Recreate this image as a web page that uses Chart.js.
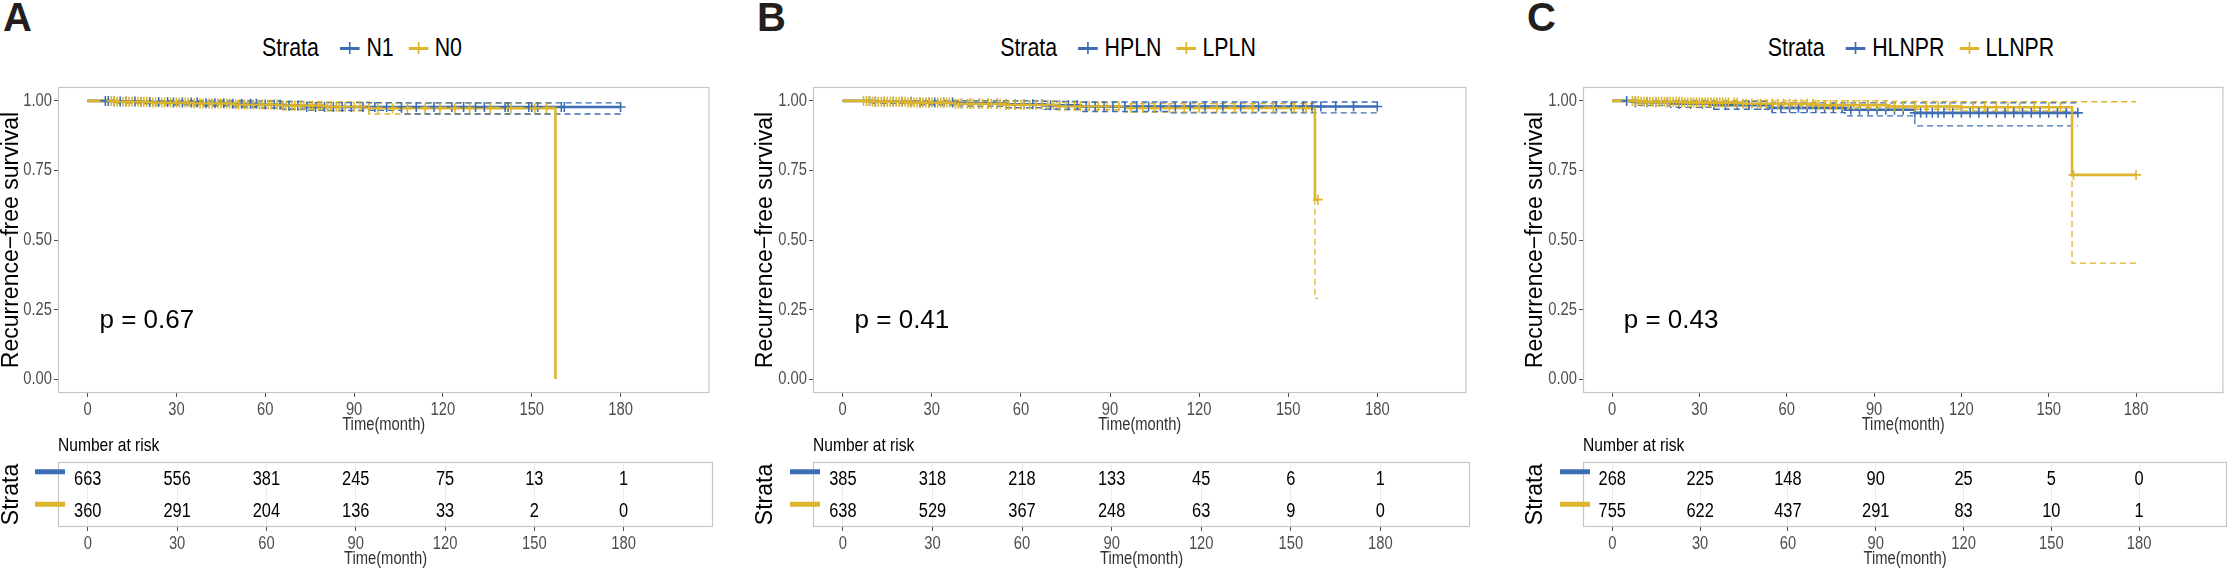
<!DOCTYPE html>
<html>
<head>
<meta charset="utf-8">
<script src="https://cdn.jsdelivr.net/npm/chart.js@4.4.1/dist/chart.umd.min.js"></script>
<style>
  body { margin:0; background:#fff; width:2230px; height:571px; overflow:hidden; position:relative; }
  canvas { position:absolute; }
  .tag { position:absolute; top:-5px; font:bold 40px "Liberation Sans", Arial, sans-serif; color:#231f20; }
  .legend { position:absolute; top:32px; transform:translateX(-50%) scaleX(0.82); display:flex; align-items:center; white-space:nowrap;
            font:26px "Liberation Sans", Arial, sans-serif; color:#000; }
  .key { position:relative; display:inline-block; width:24px; height:14px; margin:0 8px 0 18px; }
  .key.first { margin-left:26px; }
  .key::before { content:""; position:absolute; left:0; right:0; top:6px; height:3px; background:var(--c); }
  .key::after { content:""; position:absolute; left:11px; width:2px; top:1px; bottom:1px; background:var(--c); }
</style>
</head>
<body>
<script>
// ---- shared axes ----
const timeTicks = [0, 30, 60, 90, 120, 150, 180];
const survTicks = [0, 0.25, 0.5, 0.75, 1];

// ---- panel A : N1 / N0 ----
const aStrata = ['N1', 'N0'];
const aPValue = 'p = 0.67';
const aN1Curve = [[0,1],[9,0.998],[18,0.996],[28,0.994],[38,0.992],[48,0.99],[58,0.987],[66,0.983],[74,0.978],[180,0.978]];
const aN1Lower = [[0,1],[9,0.994],[18,0.99],[28,0.986],[38,0.983],[48,0.979],[58,0.975],[66,0.97],[74,0.966],[106,0.953],[180,0.953]];
const aN1Upper = [[0,1],[48,1],[58,0.998],[74,0.994],[106,0.993],[180,0.993]];
const aN1Censor = [6,7,9,11,13,16,18,21,24,27,29,32,35,37,40,43,46,49,52,55,57,60,63,65,68,71,74,77,80,83,86,89,93,97,101,106,111,117,123,127,131,134,141,142,149,150,152,160,161,180];
const aN0Curve = [[0,1],[10,0.997],[22,0.994],[35,0.991],[50,0.987],[65,0.983],[80,0.979],[95,0.974],[158,0]];
const aN0Lower = [[0,1],[10,0.99],[22,0.985],[35,0.981],[50,0.976],[65,0.971],[80,0.965],[95,0.953],[158,0.953]];
const aN0Upper = [[0,1],[50,1],[65,0.996],[95,0.992],[158,0.992]];
const aN0Censor = [8,9,10,12,13,14,15,17,18,19,20,22,23,25,26,28,30,31,33,34,36,38,39,41,42,44,45,47,48,50,51,53,54,56,58,59,61,62,64,66,67,69,70,72,73,75,76,78,79,81,82,84,85,87,90,92,95,98,103,108,114,119,124,129,136,143,151,155];
const aN1Risk = [663, 556, 381, 245, 75, 13, 1];
const aN0Risk = [360, 291, 204, 136, 33, 2, 0];

// ---- panel B : HPLN / LPLN ----
const bStrata = ['HPLN', 'LPLN'];
const bPValue = 'p = 0.41';
const bHCurve = [[0,1],[10,0.997],[25,0.994],[40,0.991],[55,0.988],[68,0.984],[80,0.98],[180,0.98]];
const bHLower = [[0,1],[10,0.991],[25,0.986],[40,0.981],[55,0.976],[68,0.97],[80,0.962],[110,0.957],[180,0.957]];
const bHUpper = [[0,1],[55,1],[68,0.998],[80,0.996],[180,0.996]];
const bHCensor = [9,11,14,17,20,23,26,29,31,34,37,40,43,46,49,52,55,58,61,64,67,70,73,76,79,82,85,88,91,95,99,103,107,112,117,122,128,134,140,146,151,155,158,161,166,172,180];
const bLCurve = [[0,1],[10,0.997],[22,0.994],[38,0.99],[55,0.986],[72,0.981],[95,0.975],[159,0.645],[160,0.645]];
const bLLower = [[0,1],[10,0.991],[22,0.986],[38,0.98],[55,0.975],[72,0.969],[95,0.96],[159,0.29],[160,0.29]];
const bLUpper = [[0,1],[55,0.999],[72,0.995],[95,0.99],[159,0.99]];
const bLCensor = [7,8,9,10,11,12,13,14,15,16,17,18,19,20,21,22,23,24,25,26,27,28,29,30,32,33,34,35,36,38,39,40,42,43,44,46,47,49,50,52,53,55,56,58,60,61,63,65,67,69,71,73,75,78,80,83,86,89,93,97,101,105,110,115,120,126,132,138,145,152,156,160];
const bHRisk = [385, 318, 218, 133, 45, 6, 1];
const bLRisk = [638, 529, 367, 248, 63, 9, 0];

// ---- panel C : HLNPR / LLNPR ----
const cStrata = ['HLNPR', 'LLNPR'];
const cPValue = 'p = 0.43';
const cHCurve = [[0,1],[8,0.995],[20,0.99],[35,0.985],[55,0.975],[80,0.968],[104,0.957],[160,0.957]];
const cHLower = [[0,1],[8,0.984],[20,0.977],[35,0.97],[55,0.958],[80,0.946],[104,0.91],[160,0.91]];
const cHUpper = [[0,1],[35,0.998],[55,0.993],[104,0.993],[160,0.993]];
const cHCensor = [5,8,12,15,19,23,27,31,35,39,43,47,51,55,58,61,64,67,70,73,76,79,82,85,88,91,94,97,100,104,106,108,110,112,114,117,120,123,126,129,132,135,138,141,144,147,150,153,156,160];
const cLCurve = [[0,1],[10,0.997],[25,0.994],[45,0.99],[70,0.985],[95,0.98],[120,0.977],[158,0.734],[180,0.734]];
const cLLower = [[0,1],[10,0.992],[25,0.988],[45,0.983],[70,0.976],[95,0.97],[120,0.964],[158,0.417],[180,0.417]];
const cLUpper = [[0,1],[95,0.998],[120,0.997],[180,0.997]];
const cLCensor = [7,8,9,10,11,12,13,14,15,16,17,18,19,20,21,22,23,24,25,26,27,28,29,30,31,32,33,34,35,36,37,38,39,40,42,43,45,46,48,50,51,53,55,57,59,61,63,65,67,69,71,73,75,77,79,81,83,85,88,91,94,97,100,104,108,112,116,120,124,128,132,136,140,145,150,154,158.5,180];
const cHRisk = [268, 225, 148, 90, 25, 5, 0];
const cLRisk = [755, 622, 437, 291, 83, 10, 1];

const BLUE = '#3d6db4', GOLD = '#dcb52c';
const SANS = '"Liberation Sans", Arial, sans-serif';

const panels = [
  { tag:'A', left:0, boxLeft:58, boxRight:713, legendX:362, strata:aStrata, p:aPValue,
    groups:[{curve:aN1Curve, lo:aN1Lower, hi:aN1Upper, cens:aN1Censor, risk:aN1Risk},
            {curve:aN0Curve, lo:aN0Lower, hi:aN0Upper, cens:aN0Censor, risk:aN0Risk}] },
  { tag:'B', left:754, boxLeft:813, boxRight:1470, legendX:1128, strata:bStrata, p:bPValue,
    groups:[{curve:bHCurve, lo:bHLower, hi:bHUpper, cens:bHCensor, risk:bHRisk},
            {curve:bLCurve, lo:bLLower, hi:bLUpper, cens:bLCensor, risk:bLRisk}] },
  { tag:'C', left:1524, boxLeft:1583, boxRight:2227, legendX:1911, strata:cStrata, p:cPValue,
    groups:[{curve:cHCurve, lo:cHLower, hi:cHUpper, cens:cHCensor, risk:cHRisk},
            {curve:cLCurve, lo:cLLower, hi:cLUpper, cens:cLCensor, risk:cLRisk}] }
];
const colors = [BLUE, GOLD];

// survival value of a step curve at time t
function survAt(curve, t) {
  let s = curve[0][1];
  curve.forEach(([ti, si]) => { if (ti <= t) s = si; });
  return s;
}
const pts = arr => arr.map(([x, y]) => ({x, y}));

// Arial-Narrow look: Liberation Sans squeezed horizontally
function narrowText(ctx, text, x, y, size, color, align, base) {
  ctx.save();
  ctx.font = size + 'px ' + SANS;
  ctx.fillStyle = color; ctx.textAlign = align; ctx.textBaseline = base || 'middle';
  ctx.scale(0.82, 1);
  ctx.fillText(text, x / 0.82, y);
  ctx.restore();
}

const boxPlugin = {
  id: 'box',
  beforeDatasetsDraw(chart) {
    const a = chart.chartArea, ctx = chart.ctx;
    ctx.save();
    ctx.strokeStyle = '#c6c6c6'; ctx.lineWidth = 1.2;
    ctx.strokeRect(a.left + 0.5, a.top + 0.5, a.right - a.left - 1, a.bottom - a.top - 1);
    ctx.restore();
  }
};

// tick labels and time title drawn through the chart's own scales
const axisTextPlugin = {
  id: 'axisText',
  afterDraw(chart) {
    const ctx = chart.ctx, a = chart.chartArea, xs = chart.scales.x, ys = chart.scales.y;
    timeTicks.forEach(t => narrowText(ctx, String(t), xs.getPixelForValue(t), a.bottom + 17, 18, '#4d4d4d', 'center'));
    narrowText(ctx, 'Time(month)', (a.left + a.right) / 2, a.bottom + 32, 18, '#333', 'center');
    if (ys.type === 'linear') {
      survTicks.forEach(v => narrowText(ctx, v.toFixed(2), a.left - 6, ys.getPixelForValue(v), 18, '#4d4d4d', 'right'));
    }
  }
};

function addCanvas(left, top, w, h) {
  const c = document.createElement('canvas');
  c.width = w; c.height = h;
  c.style.left = left + 'px'; c.style.top = top + 'px';
  c.style.width = w + 'px'; c.style.height = h + 'px';
  document.body.appendChild(c);
  return c;
}

const xScaleBase = (h) => ({
  type: 'linear', min: -10, max: 210,
  afterBuildTicks: s => { s.ticks = timeTicks.map(v => ({value: v})); },
  afterFit: s => { s.height = h; },
  border: { display: false },
  ticks: { display: false }
});

panels.forEach(P => {
  // letter + legend
  const tag = document.createElement('div');
  tag.className = 'tag'; tag.style.left = (P.left + 3) + 'px'; tag.textContent = P.tag;
  document.body.appendChild(tag);
  const lg = document.createElement('div');
  lg.className = 'legend';
  lg.style.left = P.legendX + 'px';
  lg.innerHTML = '<span>Strata</span>' + P.strata.map((s, i) =>
    `<span class="key${i === 0 ? ' first' : ''}" style="--c:${colors[i]}"></span><span>${s}</span>`).join('');
  document.body.appendChild(lg);

  // ---- survival plot ----
  const W = Math.min(P.boxRight + 3, 2230) - P.left;
  const H = 436;
  const datasets = [];
  P.groups.forEach((g, i) => {
    datasets.push({ type: 'line', data: pts(g.lo), borderColor: colors[i], borderWidth: 1.3, borderDash: [6, 4],
      stepped: 'before', pointRadius: 0, fill: false, order: 10 + i });
    datasets.push({ type: 'line', data: pts(g.hi), borderColor: colors[i], borderWidth: 1.3, borderDash: [6, 4],
      stepped: 'before', pointRadius: 0, fill: false, order: 10 + i });
  });
  P.groups.forEach((g, i) => {
    datasets.push({ type: 'line', data: pts(g.curve), borderColor: colors[i], borderWidth: 2.6,
      stepped: 'before', pointRadius: 0, fill: false, order: 5 - i });
  });
  P.groups.forEach((g, i) => {
    datasets.push({ type: 'scatter', data: g.cens.map(t => ({x: t, y: survAt(g.curve, t)})),
      pointStyle: 'cross', pointRadius: 5, borderColor: colors[i], borderWidth: 1.6, order: 2 - i });
  });

  const pPlugin = {
    id: 'pval',
    afterDatasetsDraw(chart) {
      const ctx = chart.ctx;
      ctx.save();
      ctx.font = '26px ' + SANS; ctx.fillStyle = '#000';
      ctx.textAlign = 'left'; ctx.textBaseline = 'middle';
      ctx.fillText(P.p, chart.scales.x.getPixelForValue(4), chart.scales.y.getPixelForValue(0.21));
      ctx.restore();
    }
  };

  new Chart(addCanvas(P.left, 0, W, H), {
    type: 'scatter',
    data: { datasets },
    options: {
      responsive: false, animation: false, devicePixelRatio: 1,
      layout: { padding: { top: 87, right: W - (P.boxRight - P.left), left: 0, bottom: 0 } },
      plugins: { legend: { display: false }, tooltip: { enabled: false } },
      scales: {
        x: Object.assign(xScaleBase(H - 393), {
          grid: { drawOnChartArea: false, drawTicks: true, tickLength: 4, color: '#4d4d4d', tickWidth: 1 }
        }),
        y: {
          type: 'linear', min: -0.05, max: 1.05,
          afterBuildTicks: s => { s.ticks = survTicks.map(v => ({value: v})); },
          afterFit: s => { s.width = P.boxLeft - P.left; },
          border: { display: false },
          grid: { drawOnChartArea: false, drawTicks: true, tickLength: 4, color: '#4d4d4d' },
          ticks: { display: false },
          title: { display: true, text: 'Recurrence\u2212free survival', color: '#000', font: { family: SANS, size: 23, lineHeight: 1 }, padding: { top: 0, bottom: 0 } }
        }
      }
    },
    plugins: [boxPlugin, pPlugin, axisTextPlugin]
  });

  // ---- risk table ----
  const TT = 437, TH = 571 - TT;
  const riskSets = P.groups.map((g, i) => ({
    data: timeTicks.map(t => ({x: t, y: P.strata[i]})), counts: g.risk, pointRadius: 0
  }));
  const tablePlugin = {
    id: 'risk',
    afterDatasetsDraw(chart) {
      const ctx = chart.ctx, a = chart.chartArea;
      chart.data.datasets.forEach((ds, i) => {
        chart.getDatasetMeta(i).data.forEach((el, j) => narrowText(ctx, String(ds.counts[j]), el.x, el.y + 1, 20, '#000', 'center'));
        const yy = chart.scales.y.getPixelForValue(i);
        ctx.fillStyle = colors[i];
        ctx.fillRect(a.left - 23, yy - 9, 30, 5);
      });
      narrowText(ctx, 'Number at risk', a.left, a.top - 16, 19, '#000', 'left');
    }
  };
  new Chart(addCanvas(P.left, TT, W, TH), {
    type: 'scatter',
    data: { labels: P.strata, datasets: riskSets },
    options: {
      responsive: false, animation: false, devicePixelRatio: 1,
      layout: { padding: { top: 462 - TT, right: W - (P.boxRight - P.left), left: 0, bottom: 0 } },
      plugins: { legend: { display: false }, tooltip: { enabled: false } },
      scales: {
        x: Object.assign(xScaleBase(TT + TH - 527), {
          grid: { drawOnChartArea: true, drawTicks: true, tickLength: 4, color: '#ebebeb', tickColor: '#4d4d4d' }
        }),
        y: {
          type: 'category', labels: P.strata, offset: true,
          afterFit: s => { s.width = P.boxLeft - P.left; },
          border: { display: false },
          grid: { display: false },
          ticks: { display: false },
          title: { display: true, text: 'Strata', color: '#000', font: { family: SANS, size: 23, lineHeight: 1 }, padding: { top: 0, bottom: 0 } }
        }
      }
    },
    plugins: [boxPlugin, tablePlugin, axisTextPlugin]
  });
});
</script>
</body>
</html>
